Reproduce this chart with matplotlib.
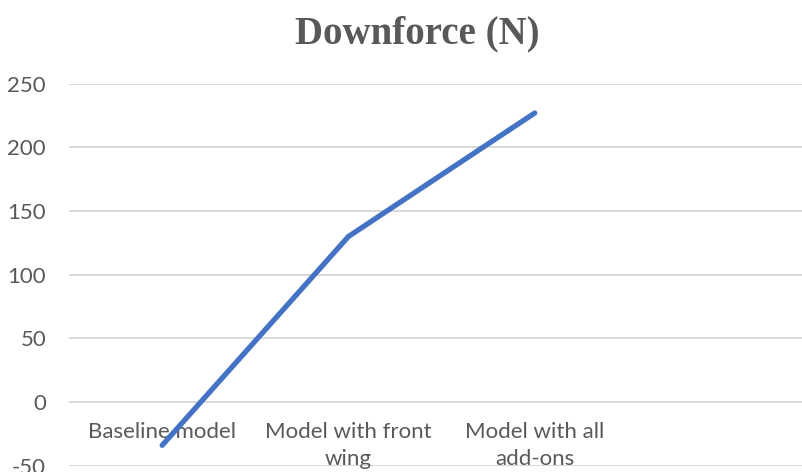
import textwrap
import matplotlib
matplotlib.use("Agg")
import matplotlib.pyplot as plt

# data
categories = ["Baseline model", "Model with front wing", "Model with all add-ons"]
downforce = [-34, 130, 227]
y_ticks = [-50, 0, 50, 100, 150, 200, 250]

text_color = "#595959"
grid_color = "#d9d9d9"
line_color = "#4472c4"

plt.rcParams["font.family"] = ["Lato", "DejaVu Sans"]

fig = plt.figure(figsize=(8.03, 4.72), dpi=100)
ax = fig.add_axes([69 / 803, 1 - 465.7 / 472, 1 - 69 / 803, (465.7 - 83.7) / 472])

x = list(range(len(categories)))
ax.plot(x, downforce, color=line_color, linewidth=3.8, solid_capstyle="round",
        solid_joinstyle="round", zorder=4, clip_on=False)

ax.set_ylim(-50, 250)
ax.set_xlim(-0.5, 3.44)
ax.set_yticks(y_ticks)
ax.set_yticklabels([str(v) for v in y_ticks])
ax.yaxis.grid(True, color=grid_color, linewidth=1.4)
ax.set_axisbelow(True)
ax.set_xticks([])
ax.tick_params(axis="y", length=0, pad=16.5, labelsize=16, labelcolor=text_color)
for s in ax.spines.values():
    s.set_visible(False)

# category labels sit just under the zero line, like Excel
for i, c in enumerate(categories):
    ax.annotate(textwrap.fill(c, 16), xy=(i, 0), xycoords="data",
                xytext=(0, -20), textcoords="offset pixels",
                ha="center", va="top", fontsize=16, color=text_color,
                linespacing=1.45, zorder=3)

fig.text(417.5 / 803, 1 - 34 / 472, "Downforce (N)", ha="center", va="center",
         fontsize=28, fontweight="bold", color=text_color,
         family=["Liberation Serif", "DejaVu Serif"])

fig.savefig("out.png", dpi=100)
